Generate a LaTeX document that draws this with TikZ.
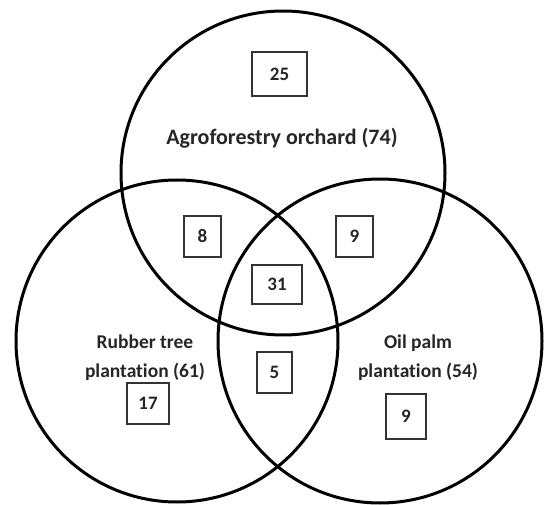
\documentclass[tikz,border=0pt]{standalone}
\usepackage{fontspec}
\setmainfont{Carlito}[Ligatures=NoCommon]
\begin{document}
\begin{tikzpicture}[x=1pt,y=-1pt,
  setcircle/.style={draw=black, line width=3pt, circle, inner sep=0pt},
  countbox/.style={draw=black!80, line width=1.1pt, inner sep=0pt, font=\bfseries\fontsize{19}{19}\selectfont, text=black!85},
  setlabel/.style={font=\bfseries\fontsize{19.5}{29}\selectfont, text=black!85, align=center}]
\useasboundingbox[fill=white] (0,0) rectangle (544,505);
% circles
\node[setcircle, minimum size=324pt] (agro) at (283,173) {};
\node[setcircle, minimum size=322pt] (rubber) at (177,341) {};
\node[setcircle, minimum size=324pt] (oil) at (380,341) {};
% labels
\node[setlabel, font=\bfseries\fontsize{22}{22}\selectfont] (agrolab) at (282,138) {Agroforestry orchard (74)};
\node[setlabel] (rubberlab) at (145,358) {Rubber tree\\plantation (61)};
\node[setlabel] (oillab) at (418,358) {Oil palm\\plantation (54)};
% count boxes
\node[countbox, minimum width=55pt, minimum height=44pt] (b25) at (279.5,74) {25};
\node[countbox, minimum width=37pt, minimum height=41pt] (b8) at (202.5,236.5) {8};
\node[countbox, minimum width=37pt, minimum height=41pt] (b9a) at (354.5,236.5) {9};
\node[countbox, minimum width=50pt, minimum height=39pt] (b31) at (277,284.5) {31};
\node[countbox, minimum width=35pt, minimum height=41pt] (b5) at (274.5,372.5) {5};
\node[countbox, minimum width=42pt, minimum height=41pt] (b17) at (148,403.5) {17};
\node[countbox, minimum width=40pt, minimum height=45pt] (b9b) at (406,416.5) {9};
\end{tikzpicture}
\end{document}
